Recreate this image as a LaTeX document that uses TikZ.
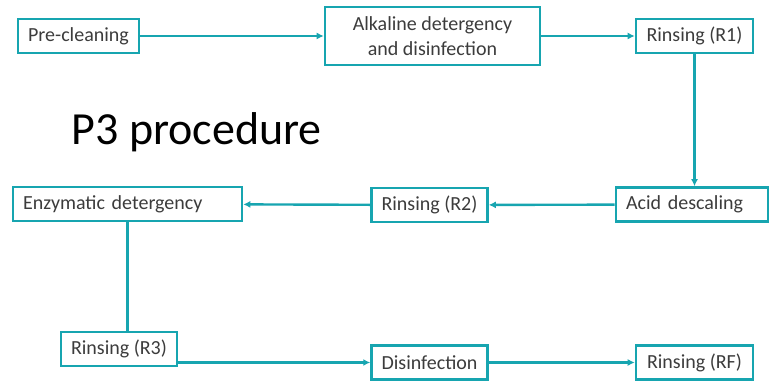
\documentclass[tikz,border=0pt]{standalone}
\usepackage{fontspec}
\setmainfont{Carlito}
\usetikzlibrary{arrows.meta}

\definecolor{boxteal}{RGB}{23,165,176}
\definecolor{labelgray}{RGB}{60,60,60}

\begin{document}
\begin{tikzpicture}[x=1pt,y=-1pt,
	stage/.style={draw=boxteal,line width=2.6pt,fill=white,text=labelgray,
		font=\fontsize{20}{25}\selectfont,inner xsep=10pt,inner ysep=0pt,minimum height=34pt},
	flow/.style={draw=boxteal,line width=2.4pt,-{Latex[length=7pt,width=7pt]}}]

\useasboundingbox (0,0) rectangle (770,390);

\node (title)	at (68,145)	[anchor=base west,font=\fontsize{46}{50}\selectfont] {P3 procedure};

% top row
\node (precleaning)	at (78.5,36)	[stage,minimum width=121pt] {Pre-cleaning};
\node (alkaline)	at (432.5,36)	[stage,minimum width=215pt,minimum height=58pt,align=center] {Alkaline detergency\\and disinfection};
\node (rinsing1)	at (694.5,36)	[stage,minimum width=117pt] {Rinsing (R1)};

% middle row
\node (acid)		at (692,204.5)	[stage,text width=132pt,align=left] {Acid descaling};
\node (rinsing2)	at (429.5,205)	[stage,minimum width=115pt] {Rinsing (R2)};
\node (enzymatic)	at (127.5,204)	[stage,text width=209pt,align=left] {Enzymatic detergency};

% bottom row
\node (rinsing3)	at (119,349)	[stage,minimum width=116pt] {Rinsing (R3)};
\node (disinfection)	at (429.5,362.5)	[stage,minimum width=115pt] {Disinfection};
\node (rinsingF)	at (694.5,362.5)	[stage,minimum width=117pt] {Rinsing (RF)};

\draw [flow] (precleaning) -- (alkaline);
\draw [flow] (alkaline) -- (rinsing1);
\draw [flow] (rinsing1.south) -- (rinsing1.south |- acid.north);
\draw [flow] (acid) -- (rinsing2);
\draw [flow] (rinsing2) -- (enzymatic);
\draw [flow,-] (enzymatic.south) -- (enzymatic.south |- rinsing3.north);
\draw [flow] (rinsing3.east |- disinfection.west) -- (disinfection.west);
\draw [flow] (disinfection) -- (rinsingF);

\end{tikzpicture}
\end{document}
